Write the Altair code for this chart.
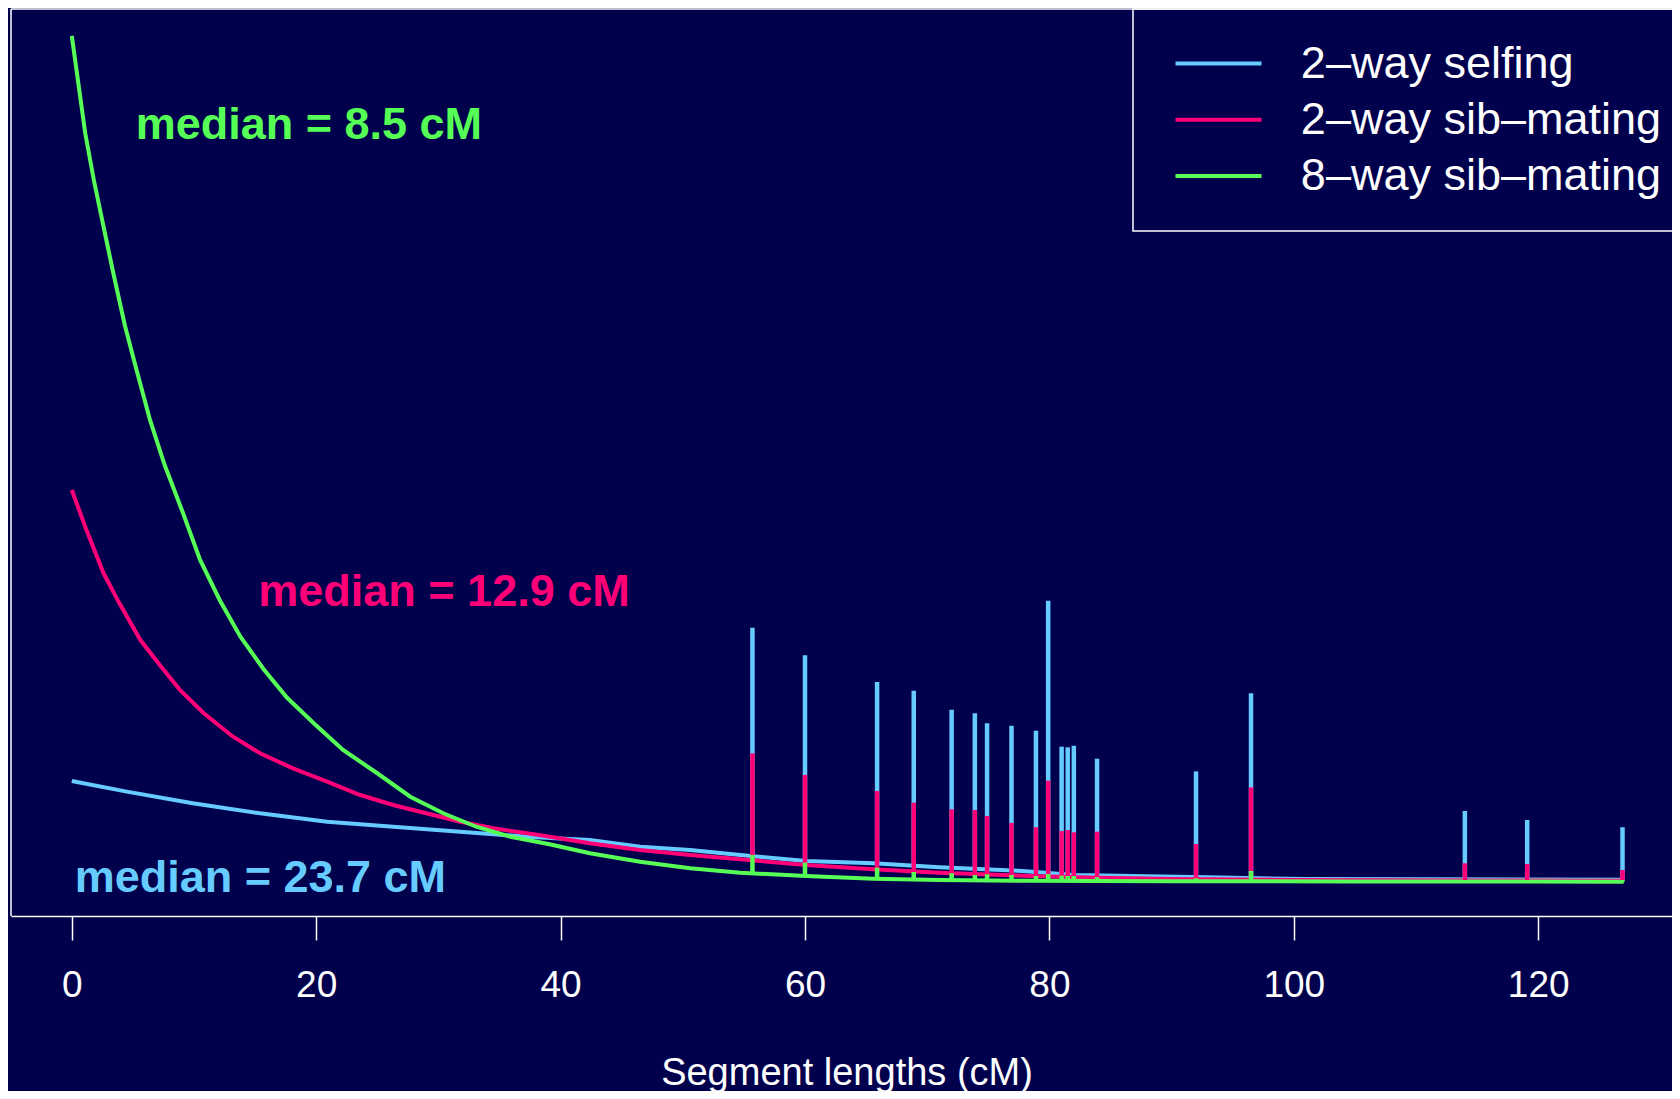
import altair as alt
import pandas as pd

# ---------------- data ----------------
series = ["2–way selfing", "2–way sib–mating", "8–way sib–mating"]
colors = ["#66CCFF", "#FF0077", "#55FF55"]

# density curves (segment length in cM, density)
blue_x = [0, 4.5, 9.9, 15.4, 20.9, 26.3, 31.8, 37.2, 42.4, 46.5, 50.6, 54.7, 60.1,
          65.6, 71.0, 77.8, 82.0, 92.9, 101.0, 112.0, 127.0]
blue_y = [0.00965, 0.00864, 0.00753, 0.00658, 0.00578, 0.00530, 0.00483, 0.00435,
          0.00404, 0.00340, 0.00308, 0.00261, 0.00204, 0.00182, 0.00144, 0.00109,
          0.00070, 0.00049, 0.00032, 0.00030, 0.00026]

pink_x = [0, 1.2, 2.6, 3.9, 5.6, 7.2, 8.85, 10.8, 13.2, 15.4, 18.1, 20.9, 23.6, 26.3,
          29.0, 31.8, 34.5, 38.5, 42.4, 46.5, 50.6, 54.7, 60.1, 65.6, 71.0, 77.8,
          84.0, 90.0, 100.0, 115.0, 127.0]
pink_y = [0.03736, 0.03355, 0.02943, 0.02657, 0.02310, 0.02070, 0.01832, 0.01610,
          0.01387, 0.01229, 0.01086, 0.00959, 0.00832, 0.00737, 0.00658, 0.00578,
          0.00515, 0.00447, 0.00372, 0.00308, 0.00261, 0.00220, 0.00166, 0.00125,
          0.00092, 0.00064, 0.00044, 0.00032, 0.00023, 0.00018, 0.00016]

green_x = [0, 1.1, 1.8, 2.6, 3.4, 4.35, 5.3, 6.4, 7.6, 9.1, 10.5, 12.1, 13.8, 15.7,
           17.6, 19.8, 22.2, 25.0, 27.7, 30.4, 33.1, 35.9, 39.0, 42.4, 46.5, 50.6,
           54.7, 60.1, 65.6, 71.0, 77.8, 90.0, 105.0, 127.0]
green_y = [0.08060, 0.07133, 0.06688, 0.06243, 0.05800, 0.05300, 0.04879, 0.04403,
           0.03974, 0.03517, 0.03070, 0.02689, 0.02339, 0.02030, 0.01760, 0.01515,
           0.01261, 0.01039, 0.00816, 0.00658, 0.00530, 0.00435, 0.00366, 0.00277,
           0.00197, 0.00134, 0.00092, 0.00061, 0.00035, 0.00023, 0.00016, 0.00011,
           0.00009, 0.00007]

# whole-chromosome spikes
spike_x = [55.7, 60.0, 65.9, 68.9, 72.0, 73.9, 74.9, 76.9, 78.9, 79.9, 81.0, 81.5,
           82.0, 83.9, 92.0, 96.5, 114.0, 119.1, 126.9]
blue_top = [0.02425, 0.02162, 0.01908, 0.01825, 0.01644, 0.01610, 0.01515, 0.01492,
            0.01444, 0.02682, 0.01292, 0.01286, 0.01302, 0.01178, 0.01057, 0.01801,
            0.00680, 0.00594, 0.00525]
blue_base = [0.00251, 0.00204, 0.00182, 0.00161, 0.00140, 0.00132, 0.00128, 0.00118,
             0.00109, 0.00094, 0.00080, 0.00075, 0.00070, 0.00066, 0.00050, 0.00042,
             0.00030, 0.00029, 0.00028]
pink_top = [0.01229, 0.01023, 0.00870, 0.00759, 0.00696, 0.00689, 0.00632, 0.00566,
            0.00525, 0.00968, 0.00489, 0.00499, 0.00477, 0.00483, 0.00366, 0.00904,
            0.00182, 0.00175, 0.00118]
pink_base = [0.00218, 0.00166, 0.00125, 0.00106, 0.00090, 0.00080, 0.00075, 0.00068,
             0.00061, 0.00056, 0.00051, 0.00051, 0.00049, 0.00044, 0.00030, 0.00027,
             0.00018, 0.00017, 0.00016]
green_top = [0.00261, 0.00188, 0.00140, 0.00099, 0.00087, 0.00070, 0.00077, 0.00070,
             0.00061, 0.00080, 0.00064, 0.00061, 0.00061, 0.00049, 0.00039, 0.00109,
             0.00023, 0.00023, 0.00023]
green_base = [0.00090, 0.00061, 0.00037, 0.00030, 0.00023, 0.00020, 0.00019, 0.00018,
              0.00017, 0.00016, 0.00016, 0.00016, 0.00015, 0.00015, 0.00012, 0.00011,
              0.00009, 0.00008, 0.00007]

# median annotations
label_text = ["median = 23.7 cM", "median = 12.9 cM", "median = 8.5 cM"]
label_x = [15.43, 30.46, 19.40]
label_y = [-0.00087, 0.02632, 0.07078]

x_ticks = [0, 20, 40, 60, 80, 100, 120]
X_DOMAIN = [-4.975, 130.95]
Y_DOMAIN = [-0.0032, 0.08316]

# ---------------- tables ----------------
curve_rows = []
for s, xs_, ys_ in zip(series, [blue_x, pink_x, green_x], [blue_y, pink_y, green_y]):
    for x, y in zip(xs_, ys_):
        curve_rows.append({"series": s, "x": x, "y": y})
curves = pd.DataFrame(curve_rows)

spike_rows = []
for s, tops, bases in zip(series, [blue_top, pink_top, green_top],
                          [blue_base, pink_base, green_base]):
    for x, t, b in zip(spike_x, tops, bases):
        spike_rows.append({"series": s, "x": x, "top": t, "base": b})
spikes = pd.DataFrame(spike_rows)

labels = pd.DataFrame({"series": series, "x": label_x, "y": label_y, "text": label_text})

W, H = 1661, 907
FONT = "Liberation Sans"
BG = "#00004D"

xs = alt.Scale(domain=X_DOMAIN, nice=False, zero=False)
ys = alt.Scale(domain=Y_DOMAIN, nice=False, zero=False)
cs = alt.Scale(domain=series, range=colors)

x_axis = alt.Axis(values=x_ticks, title="Segment lengths (cM)", grid=False,
                  domain=True, domainColor="white", domainWidth=1.5,
                  ticks=True, tickColor="white", tickWidth=1.5, tickSize=24,
                  labelColor="white", labelFontSize=37, labelFont=FONT,
                  labelPadding=27, labelFlush=False, labelOverlap=False,
                  titleColor="white", titleFontSize=38, titleFont=FONT,
                  titleFontWeight="normal", titleX=835.5, titleY=168,
                  titleBaseline="alphabetic", titleAlign="center")

legend = alt.Legend(orient="none", legendX=1122, legendY=0, title=None,
                    direction="vertical", symbolType="M-1.116,0H6.884", symbolSize=462,
                    symbolStrokeWidth=4, labelFontSize=45, labelColor="white",
                    labelFont=FONT, labelOffset=90.85, labelLimit=600,
                    padding=32, rowPadding=10.2, strokeColor="white")

lines = alt.Chart(curves).mark_line(strokeWidth=4).encode(
    x=alt.X("x:Q", scale=xs, axis=x_axis),
    y=alt.Y("y:Q", scale=ys, axis=None),
    color=alt.Color("series:N", scale=cs, legend=legend, sort=series),
)

spike_layer = alt.Chart(spikes).mark_rule(strokeWidth=4.5, strokeCap="butt").encode(
    x=alt.X("x:Q", scale=xs),
    y=alt.Y("base:Q", scale=ys),
    y2="top:Q",
    color=alt.Color("series:N", scale=cs, legend=None),
)

text_layer = alt.Chart(labels).mark_text(
    font=FONT, fontWeight="bold", fontSize=45, align="center", baseline="alphabetic"
).encode(
    x=alt.X("x:Q", scale=xs),
    y=alt.Y("y:Q", scale=ys),
    text="text:N",
    color=alt.Color("series:N", scale=cs, legend=None),
)

one = alt.Data(values=[{}])
frame_top = alt.Chart(one).mark_rule(color="white", strokeWidth=1.5).encode(
    x=alt.value(0), x2=alt.value(W), y=alt.value(0))
frame_left = alt.Chart(one).mark_rule(color="white", strokeWidth=1.5).encode(
    x=alt.value(0), y=alt.value(0), y2=alt.value(H))

chart = alt.layer(lines, spike_layer, text_layer, frame_top, frame_left).properties(
    width=W, height=H,
    autosize=alt.AutoSizeParams(type="none"),
    padding={"left": 3, "top": 1, "right": 0, "bottom": 175},
    background=BG,
).configure_view(strokeWidth=0).configure_legend(strokeWidth=1.5)

chart.save("out.html", embed_options={"renderer": "svg", "actions": False})
